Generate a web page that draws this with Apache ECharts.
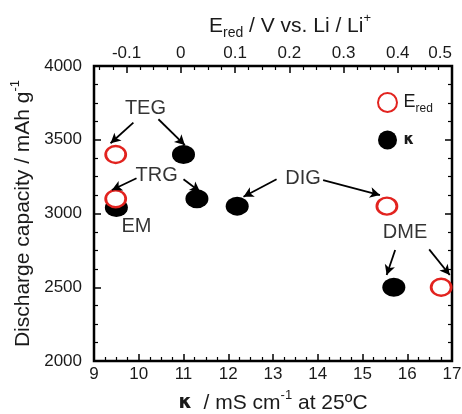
<!DOCTYPE html>
<html lang="en">
<head>
  <meta charset="UTF-8">
  <title>Discharge capacity</title>
  <style>
    html, body { margin: 0; padding: 0; background: #fff; }
    #chart { width: 462px; height: 414px; }
  </style>
</head>
<body>
  <div id="chart"></div>
  <script src="https://cdn.jsdelivr.net/npm/echarts@6/dist/echarts.min.js"></script>
  <script>
    // kappa (bottom axis) vs capacity : EM, TEG, TRG, DIG, DME
    const kappaNames = ['EM', 'TEG', 'TRG', 'DIG', 'DME']
    const kappaX = [9.5, 11.0, 11.3, 12.2, 15.7]
    const kappaCap = [3040, 3400, 3100, 3050, 2500]

    // E_red (top axis) vs capacity : TEG, TRG, DIG, DME
    const eredNames = ['TEG', 'TRG', 'DIG', 'DME']
    const eredX = [-0.12, -0.12, 0.38, 0.48]
    const eredCap = [3400, 3100, 3050, 2500]

    // text annotations, in kappa / capacity units
    const noteText = ['TEG', 'TRG', 'EM', 'DIG', 'DME']
    const noteX = [10.15, 10.4, 9.95, 13.67, 15.95]
    const noteY = [3710, 3255, 2915, 3240, 2870]

    // arrows [x1, y1, x2, y2], kappa / capacity units
    const arrows = [
      [9.88, 3616, 9.37, 3476],
      [10.44, 3639, 11.03, 3464],
      [9.95, 3239, 9.40, 3159],
      [11.0, 3232, 11.37, 3148],
      [13.08, 3232, 12.34, 3114],
      [14.12, 3227, 15.39, 3125],
      [15.73, 2753, 15.54, 2583],
      [16.49, 2757, 16.95, 2583]
    ]

    const yTicks = { min: 2000, max: 4000, interval: 500 }

    const font = 'Liberation Sans'
    const ink = '#1a1a1a'
    const red = '#e2231f'

    // thick frame comes from the grid border, axes only draw ticks + labels
    function frame() {
      return {
        axisLine: { show: false, onZero: false },
        axisTick: { show: true, inside: true, length: 7, lineStyle: { color: '#000', width: 1.5 } },
        minorTick: { show: true, splitNumber: 4, length: 4, lineStyle: { color: '#000', width: 1.2 } },
        splitLine: { show: false },
        minorSplitLine: { show: false }
      }
    }
    const rich = {
      t: { fontFamily: font, fontSize: 21, color: ink, lineHeight: 28 },
      k: { fontFamily: 'DejaVu Sans', fontSize: 19, fontWeight: 'bold', color: ink, lineHeight: 28 },
      sub: { fontFamily: font, fontSize: 14, color: ink, verticalAlign: 'bottom' },
      sup: { fontFamily: font, fontSize: 13, color: ink, verticalAlign: 'top' },
      lt: { fontFamily: font, fontSize: 18, color: ink, lineHeight: 24 },
      lsub: { fontFamily: font, fontSize: 12, color: ink, verticalAlign: 'bottom' },
      lk: { fontFamily: 'DejaVu Sans', fontSize: 15, fontWeight: 'bold', color: ink }
    }
    const tickFont = { fontFamily: font, fontSize: 17, color: ink }

    const chart = echarts.init(document.getElementById('chart'))

    const option = {
      animation: false,
      backgroundColor: '#fff',
      grid: {
        left: 94, right: 10, top: 66, bottom: 53,
        containLabel: false, outerBoundsMode: 'none',
        show: true, borderColor: '#000', borderWidth: 2.5, backgroundColor: 'transparent'
      },
      legend: {
        orient: 'vertical',
        left: 372,
        top: 87,
        itemWidth: 22,
        itemHeight: 19,
        itemGap: 16,
        data: ['Ered', 'κ'],
        formatter: function (name) {
          return name === 'Ered' ? '{lt|E}{lsub|red}' : '{lk|κ}'
        },
        textStyle: { rich: rich }
      },
      xAxis: [
        Object.assign(frame(), {
          type: 'value', position: 'bottom', min: 9, max: 17, interval: 1,
          axisLabel: Object.assign({ margin: 5 }, tickFont),
          name: '{k|κ}{t|  / mS cm}{sup|-1}{t| at 25ºC}',
          nameLocation: 'middle', nameGap: 28,
          nameTextStyle: { rich: rich }
        }),
        Object.assign(frame(), {
          type: 'value', position: 'top', min: -0.16, max: 0.5,
          axisLabel: Object.assign({ margin: 4, showMinLabel: false, alignMaxLabel: 'right' }, tickFont),
          name: '{t|E}{sub|red}{t| / V vs. Li / Li}{sup|+}',
          nameLocation: 'middle', nameGap: 26,
          nameTextStyle: { rich: rich, padding: [0, 0, 0, 34] }
        })
      ],
      yAxis: [
        Object.assign(frame(), {
          type: 'value', position: 'left', min: yTicks.min, max: yTicks.max, interval: yTicks.interval,
          axisLabel: Object.assign({ margin: 12, formatter: v => String(v) }, tickFont),
          name: '{t|Discharge capacity / mAh g}{sup|-1}',
          nameLocation: 'middle', nameGap: 49,
          nameTextStyle: { rich: rich }
        }),
        Object.assign(frame(), {
          type: 'value', position: 'right', min: yTicks.min, max: yTicks.max, interval: yTicks.interval,
          axisLabel: { show: false }
        })
      ],
      series: [
        {
          name: 'κ',
          type: 'scatter',
          xAxisIndex: 0, yAxisIndex: 0,
          symbol: 'circle',
          symbolSize: [23, 19],
          itemStyle: { color: '#000', opacity: 1 },
          data: kappaX.map((x, i) => ({ name: kappaNames[i], value: [x, kappaCap[i]] })),
          z: 3
        },
        {
          name: 'Ered',
          type: 'scatter',
          xAxisIndex: 1, yAxisIndex: 0,
          symbol: 'circle',
          symbolSize: [20, 17],
          itemStyle: { color: '#fff', borderColor: red, borderWidth: 2.6, opacity: 1 },
          data: eredX.map((x, i) => ({ name: eredNames[i], value: [x, eredCap[i]] })),
          z: 4
        },
        {
          name: 'notes',
          type: 'scatter',
          xAxisIndex: 0, yAxisIndex: 0,
          symbolSize: 1,
          itemStyle: { color: 'rgba(0,0,0,0)' },
          silent: true,
          label: {
            show: true, position: 'inside',
            formatter: p => p.name,
            fontFamily: font, fontSize: 20, color: '#000'
          },
          data: noteText.map((t, i) => ({ name: t, value: [noteX[i], noteY[i]] })),
          markLine: {
            silent: true,
            symbol: ['none', 'arrow'],
            symbolSize: [8, 10],
            label: { show: false },
            lineStyle: { color: '#000', width: 1.8, type: 'solid' },
            data: arrows.map(a => [{ coord: [a[0], a[1]] }, { coord: [a[2], a[3]] }])
          },
          z: 5
        }
      ]
    }

    chart.setOption(option)
  </script>
</body>
</html>
